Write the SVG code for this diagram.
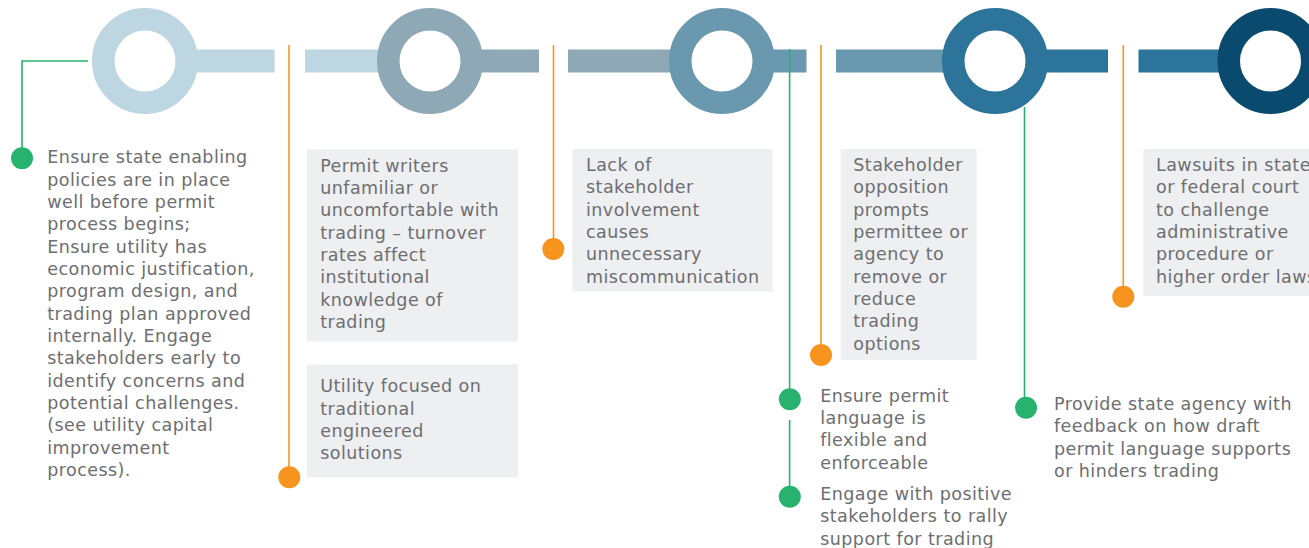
<svg xmlns="http://www.w3.org/2000/svg" width="1309" height="548" viewBox="0 0 1309 548">
<style>
text{font-family:"DejaVu Sans","Liberation Sans",sans-serif;font-size:17.5px;letter-spacing:0.45px;fill:#6d6e71}
.box{fill:#eeeff1}
.ring{fill:none;stroke-width:22.5}
.ol{stroke:#f7941e;stroke-width:1.6;fill:none}
.gl{stroke:#27b36f;stroke-width:1.6;fill:none}
.od{fill:#f7941e}
.gd{fill:#27b36f}
</style>
<g id="timeline">
<rect x="185" y="49.5" width="89.5" height="23" fill="#bed5e2"/>
<rect x="305" y="49.5" width="85" height="23" fill="#bed5e2"/>
<rect x="470" y="49.5" width="69" height="23" fill="#8fa8b6"/>
<rect x="568" y="49.5" width="114" height="23" fill="#8fa8b6"/>
<rect x="762" y="49.5" width="44.5" height="23" fill="#6a98af"/>
<rect x="836" y="49.5" width="119" height="23" fill="#6a98af"/>
<rect x="1035" y="49.5" width="73" height="23" fill="#2c7499"/>
<rect x="1138.5" y="49.5" width="92" height="23" fill="#2c7499"/>
</g>
<g id="stage1"><circle class="ring" cx="145" cy="61" r="41.75" stroke="#bed5e2"/></g>
<g id="stage2"><circle class="ring" cx="430" cy="61" r="41.75" stroke="#8fa8b6"/></g>
<g id="stage3"><circle class="ring" cx="722" cy="61" r="41.75" stroke="#6a98af"/></g>
<g id="stage4"><circle class="ring" cx="995" cy="61" r="41.75" stroke="#2c7499"/></g>
<g id="stage5"><circle class="ring" cx="1270.5" cy="61" r="41.75" stroke="#0b4a6f"/></g>
<g id="connectors">
<path class="gl" d="M88 61H22V158"/>
<path class="ol" d="M289 45V477"/>
<path class="ol" d="M553.5 45V249"/>
<path class="ol" d="M821 45V355"/>
<path class="ol" d="M1123.3 45V296.7"/>
<path class="gl" d="M789.6 49V399"/>
<path class="gl" d="M789.6 420V497"/>
<path class="gl" d="M1024.5 107V408"/>
</g>
<g id="note1">
<circle class="gd" cx="22" cy="158.3" r="11"/>
<text x="47.2" y="163.3">Ensure state enabling<tspan x="47.2" dy="22.33">policies are in place</tspan><tspan x="47.2" dy="22.33">well before permit</tspan><tspan x="47.2" dy="22.33">process begins;</tspan><tspan x="47.2" dy="22.33">Ensure utility has</tspan><tspan x="47.2" dy="22.33">economic justification,</tspan><tspan x="47.2" dy="22.33">program design, and</tspan><tspan x="47.2" dy="22.33">trading plan approved</tspan><tspan x="47.2" dy="22.33">internally. Engage</tspan><tspan x="47.2" dy="22.33">stakeholders early to</tspan><tspan x="47.2" dy="22.33">identify concerns and</tspan><tspan x="47.2" dy="22.33">potential challenges.</tspan><tspan x="47.2" dy="22.33">(see utility capital</tspan><tspan x="47.2" dy="22.33">improvement</tspan><tspan x="47.2" dy="22.33">process).</tspan></text>
</g>
<g id="box1">
<rect class="box" x="307" y="149.3" width="211" height="192.4"/>
<text x="320.2" y="171.7">Permit writers<tspan x="320.2" dy="22.33">unfamiliar or</tspan><tspan x="320.2" dy="22.33">uncomfortable with</tspan><tspan x="320.2" dy="22.33">trading – turnover</tspan><tspan x="320.2" dy="22.33">rates affect</tspan><tspan x="320.2" dy="22.33">institutional</tspan><tspan x="320.2" dy="22.33">knowledge of</tspan><tspan x="320.2" dy="22.33">trading</tspan></text>
</g>
<g id="box2">
<rect class="box" x="307" y="364.3" width="211" height="113"/>
<text x="320.2" y="392.3">Utility focused on<tspan x="320.2" dy="22.33">traditional</tspan><tspan x="320.2" dy="22.33">engineered</tspan><tspan x="320.2" dy="22.33">solutions</tspan></text>
<circle class="od" cx="289.3" cy="477.3" r="11"/>
</g>
<g id="box3">
<rect class="box" x="572.3" y="149" width="200.4" height="142.7"/>
<text x="586" y="171">Lack of<tspan x="586" dy="22.33">stakeholder</tspan><tspan x="586" dy="22.33">involvement</tspan><tspan x="586" dy="22.33">causes</tspan><tspan x="586" dy="22.33">unnecessary</tspan><tspan x="586" dy="22.33">miscommunication</tspan></text>
<circle class="od" cx="553.3" cy="249" r="11"/>
</g>
<g id="box4">
<rect class="box" x="840.7" y="149" width="136" height="211"/>
<text x="853.3" y="171">Stakeholder<tspan x="853.3" dy="22.33">opposition</tspan><tspan x="853.3" dy="22.33">prompts</tspan><tspan x="853.3" dy="22.33">permittee or</tspan><tspan x="853.3" dy="22.33">agency to</tspan><tspan x="853.3" dy="22.33">remove or</tspan><tspan x="853.3" dy="22.33">reduce</tspan><tspan x="853.3" dy="22.33">trading</tspan><tspan x="853.3" dy="22.33">options</tspan></text>
<circle class="od" cx="821" cy="355" r="11"/>
</g>
<g id="box5">
<rect class="box" x="1143.3" y="149" width="170" height="147"/>
<text x="1156" y="171">Lawsuits in state<tspan x="1156" dy="22.33">or federal court</tspan><tspan x="1156" dy="22.33">to challenge</tspan><tspan x="1156" dy="22.33">administrative</tspan><tspan x="1156" dy="22.33">procedure or</tspan><tspan x="1156" dy="22.33">higher order laws</tspan></text>
<circle class="od" cx="1123.3" cy="296.7" r="11"/>
</g>
<g id="noteA">
<circle class="gd" cx="789.8" cy="399.3" r="11"/>
<text x="820.2" y="401.7">Ensure permit<tspan x="820.2" dy="22.33">language is</tspan><tspan x="820.2" dy="22.33">flexible and</tspan><tspan x="820.2" dy="22.33">enforceable</tspan></text>
</g>
<g id="noteB">
<circle class="gd" cx="789.8" cy="496.7" r="11"/>
<text x="820.2" y="500">Engage with positive<tspan x="820.2" dy="22.33">stakeholders to rally</tspan><tspan x="820.2" dy="22.33">support for trading</tspan></text>
</g>
<g id="noteC">
<circle class="gd" cx="1026" cy="407.7" r="11"/>
<text x="1054" y="410">Provide state agency with<tspan x="1054" dy="22.33">feedback on how draft</tspan><tspan x="1054" dy="22.33">permit language supports</tspan><tspan x="1054" dy="22.33">or hinders trading</tspan></text>
</g>
</svg>
